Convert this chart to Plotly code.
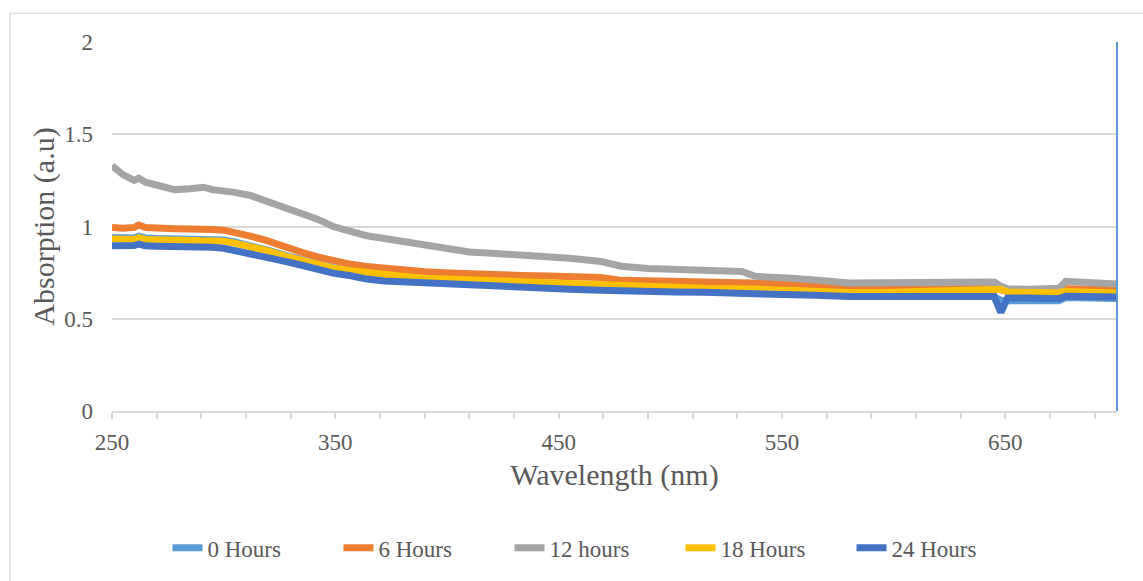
import plotly.graph_objects as go

wavelength = [250, 255, 260, 262, 265, 270, 278, 285, 291, 295, 300, 305, 312, 319, 328, 335, 342, 349,
              357, 364, 372, 380, 390, 401, 410, 420, 434, 445, 455, 469, 478, 490, 502, 515, 532, 538,
              545, 554, 565, 580, 595, 610, 625, 639, 645, 648, 651, 660, 670, 674, 677, 685, 695, 700]

hours_0 = [0.940, 0.936, 0.938, 0.948, 0.938, 0.935, 0.934, 0.933, 0.937, 0.931, 0.927, 0.916, 0.898,
           0.874, 0.842, 0.818, 0.795, 0.777, 0.762, 0.750, 0.740, 0.732, 0.722, 0.715, 0.710, 0.705,
           0.700, 0.693, 0.688, 0.680, 0.673, 0.668, 0.664, 0.660, 0.657, 0.652, 0.650, 0.648, 0.640,
           0.628, 0.627, 0.628, 0.630, 0.630, 0.620, 0.600, 0.598, 0.596, 0.597, 0.598, 0.615, 0.613,
           0.610, 0.610]
hours_6 = [0.995, 0.990, 0.995, 1.008, 0.995, 0.990, 0.988, 0.986, 0.990, 0.984, 0.980, 0.970, 0.948,
           0.925, 0.885, 0.860, 0.835, 0.812, 0.795, 0.783, 0.772, 0.765, 0.755, 0.748, 0.742, 0.738,
           0.735, 0.732, 0.730, 0.724, 0.708, 0.705, 0.702, 0.700, 0.698, 0.695, 0.694, 0.690, 0.680,
           0.660, 0.658, 0.660, 0.665, 0.667, 0.665, 0.655, 0.649, 0.650, 0.650, 0.652, 0.663, 0.660,
           0.658, 0.658]
hours_12 = [1.330, 1.280, 1.250, 1.262, 1.240, 1.225, 1.200, 1.205, 1.213, 1.200, 1.195, 1.185, 1.168,
            1.140, 1.100, 1.075, 1.040, 1.000, 0.975, 0.950, 0.935, 0.918, 0.895, 0.872, 0.862, 0.855,
            0.846, 0.838, 0.828, 0.810, 0.785, 0.772, 0.765, 0.760, 0.756, 0.730, 0.728, 0.720, 0.710,
            0.694, 0.695, 0.698, 0.700, 0.703, 0.699, 0.676, 0.662, 0.660, 0.662, 0.665, 0.703, 0.695,
            0.690, 0.688]
hours_18 = [0.932, 0.928, 0.930, 0.940, 0.930, 0.928, 0.927, 0.926, 0.930, 0.924, 0.920, 0.910, 0.893,
            0.870, 0.838, 0.815, 0.792, 0.774, 0.760, 0.748, 0.738, 0.730, 0.720, 0.713, 0.710, 0.705,
            0.700, 0.695, 0.690, 0.683, 0.676, 0.672, 0.668, 0.665, 0.663, 0.660, 0.659, 0.658, 0.650,
            0.642, 0.642, 0.645, 0.648, 0.649, 0.652, 0.660, 0.645, 0.640, 0.641, 0.642, 0.649, 0.645,
            0.642, 0.640]
hours_24 = [0.896, 0.893, 0.897, 0.905, 0.895, 0.893, 0.892, 0.891, 0.895, 0.888, 0.882, 0.870, 0.855,
            0.840, 0.810, 0.790, 0.765, 0.747, 0.733, 0.715, 0.705, 0.700, 0.692, 0.685, 0.680, 0.675,
            0.670, 0.665, 0.660, 0.655, 0.650, 0.647, 0.645, 0.643, 0.640, 0.638, 0.635, 0.632, 0.627,
            0.620, 0.621, 0.622, 0.622, 0.622, 0.620, 0.535, 0.612, 0.612, 0.610, 0.609, 0.622, 0.620,
            0.618, 0.618]

series_names = ["0 Hours", "6 Hours", "12 hours", "18 Hours", "24 Hours"]
series_values = [hours_0, hours_6, hours_12, hours_18, hours_24]
series_colors = ["#5B9BD5", "#ED7D31", "#A5A5A5", "#FFC000", "#4472C4"]

x_tick_values = [250, 350, 450, 550, 650]
x_minor_ticks = list(range(250, 701, 20))
y_tick_values = [0, 0.5, 1, 1.5, 2]
x_range = [250, 700]
y_range = [0, 2]

FONT = "Liberation Serif, Times New Roman, serif"
TXT = "#595959"
GRID = "#D9D9D9"

fig = go.Figure()
for name, vals, col in zip(series_names, series_values, series_colors):
    fig.add_trace(go.Scatter(x=wavelength, y=vals, name=name, mode="lines",
                             line=dict(color=col, width=7)))

W, H = 1143, 581
L, R, T, B = 112, 26, 42, 167
pw, ph = W - L - R, H - T - B

fig.update_layout(
    width=W, height=H,
    margin=dict(l=L, r=R, t=T, b=B, pad=0),
    paper_bgcolor="white", plot_bgcolor="white",
    font=dict(family=FONT, size=23, color=TXT),
    showlegend=True,
    legend=dict(orientation="h", x=(595 - L) / pw, xanchor="center",
                y=(T + ph - 552) / ph, yanchor="middle",
                font=dict(family=FONT, size=23, color=TXT),
                entrywidth=126, itemwidth=30, bgcolor="rgba(0,0,0,0)"),
    xaxis=dict(range=x_range, tickmode="array", tickvals=x_tick_values,
               ticktext=[str(v) for v in x_tick_values],
               showgrid=False, zeroline=False, showline=True, linecolor=GRID, linewidth=1.5,
               ticks="outside", ticklen=6, tickcolor=GRID, tickwidth=1.5,
               minor=dict(tickmode="array", tickvals=x_minor_ticks, ticks="outside",
                          ticklen=6, tickcolor=GRID, tickwidth=1.5, showgrid=False),
               tickfont=dict(family=FONT, size=23, color=TXT),
               ticklabelstandoff=4,
               title=dict(text="Wavelength (nm)", font=dict(family=FONT, size=30, color=TXT),
                          standoff=10),
               automargin=False),
    yaxis=dict(range=y_range, tickmode="array", tickvals=y_tick_values,
               ticktext=["0", "0.5", "1", "1.5", "2"],
               showgrid=True, gridcolor=GRID, gridwidth=1.5, zeroline=False, showline=False,
               ticks="", tickfont=dict(family=FONT, size=23, color=TXT),
               ticklabelstandoff=18,
               title=dict(text="Absorption (a.u)", font=dict(family=FONT, size=30, color=TXT),
                          standoff=0),
               automargin=False),
    shapes=[
        dict(type="line", xref="x domain", yref="y domain", x0=1, x1=1, y0=0, y1=1,
             line=dict(color="#5B9BD5", width=2)),
        dict(type="rect", xref="paper", yref="paper",
             x0=(10 - L) / pw, x1=(1160 - L) / pw,
             y0=(T + ph - 600) / ph, y1=(T + ph - 13) / ph,
             line=dict(color=GRID, width=1.2), fillcolor="rgba(0,0,0,0)", layer="below"),
    ],
)

fig.write_html("out.html")
